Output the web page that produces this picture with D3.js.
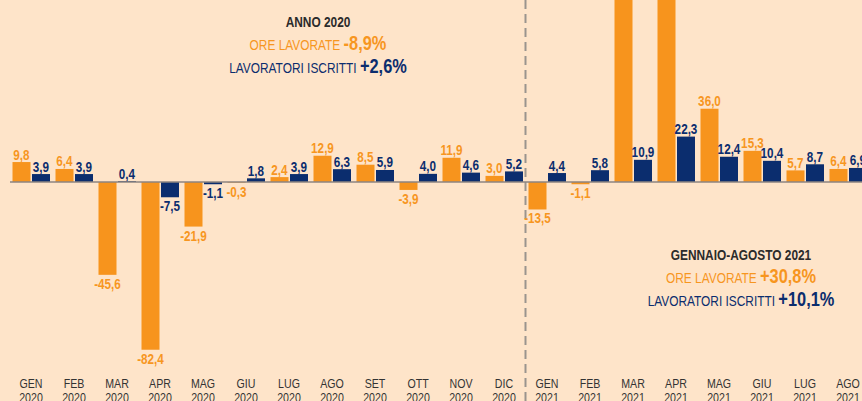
<!DOCTYPE html>
<html lang="it">
<head>
  <meta charset="UTF-8" />
  <title>Ore lavorate e lavoratori iscritti</title>
  <script src="https://d3js.org/d3.v7.min.js"></script>
  <style>
    body { margin: 0; background: #fee4c9; }
    svg { display: block; }
    text { font-family: "Liberation Sans", Arial, sans-serif; }
  </style>
</head>
<body>
  <svg width="862" height="401"></svg>
  <script>
    const months = ["GEN", "FEB", "MAR", "APR", "MAG", "GIU", "LUG", "AGO", "SET", "OTT", "NOV", "DIC",
      "GEN", "FEB", "MAR", "APR", "MAG", "GIU", "LUG", "AGO"];
    const years = ["2020", "2020", "2020", "2020", "2020", "2020", "2020", "2020", "2020", "2020", "2020", "2020",
      "2021", "2021", "2021", "2021", "2021", "2021", "2021", "2021"];
    // variazione % ore lavorate (mar/apr 2021 fuori scala, etichetta non visibile)
    const ore = [9.8, 6.4, -45.6, -82.4, -21.9, -0.3, 2.4, 12.9, 8.5, -3.9, 11.9, 3.0,
      -13.5, -1.1, 120, 150, 36.0, 15.3, 5.7, 6.4];
    const iscritti = [3.9, 3.9, 0.4, -7.5, -1.1, 1.8, 3.9, 6.3, 5.9, 4.0, 4.6, 5.2,
      4.4, 5.8, 10.9, 22.3, 12.4, 10.4, 8.7, 6.9];

    const orange = "#f7941d", navy = "#0b2d6e", labelOrange = "#f7961f";
    const svg = d3.select("svg");
    const keys = months.map((m, i) => m + "-" + years[i]);

    const x = d3.scaleBand().domain(keys).range([9.5, 869.5]);
    const y = d3.scaleLinear().domain([-90, 90]).range([182 + 183.2, 182 - 183.2]);
    const fmt = v => d3.format(".1f")(v).replace(".", ",").replace("−", "-");
    const cx = k => x(k) + x.bandwidth() / 2;

    svg.append("rect").attr("width", 862).attr("height", 401).attr("fill", "#fee4c9");

    // separatore 2020 / 2021
    const sepX = (cx(keys[11]) + cx(keys[12])) / 2;
    svg.append("line")
      .attr("x1", sepX).attr("x2", sepX)
      .attr("y1", 0).attr("y2", 401)
      .attr("stroke", "#9a948e").attr("stroke-width", 2)
      .attr("stroke-dasharray", "9,5");

    const chart = svg.append("g");
    const series = [
      { vals: ore, color: orange, text: labelOrange, dx: -18.5 },
      { vals: iscritti, color: navy, text: navy, dx: 1 }
    ];

    series.forEach(s => {
      const g = chart.append("g");
      g.selectAll("rect")
        .data(s.vals)
        .join("rect")
        .attr("x", (d, i) => cx(keys[i]) + s.dx)
        .attr("width", 18)
        .attr("y", d => y(Math.max(0, d)))
        .attr("height", d => Math.abs(y(d) - y(0)))
        .attr("fill", s.color);
      // etichette solo per i valori che rientrano nell'area visibile
      const shown = s.vals.map((d, i) => ({ d, i })).filter(o => y(o.d) > 20);
      g.selectAll("text")
        .data(shown)
        .join("text")
        .attr("transform", o => {
          const ty = o.d >= 0 ? y(o.d) - 2.5 : y(o.d) + 14;
          return `translate(${cx(keys[o.i]) + s.dx + 9},${ty}) scale(0.78,1)`;
        })
        .attr("text-anchor", "middle")
        .attr("font-size", 15)
        .attr("font-weight", "bold")
        .attr("fill", s.text)
        .text(o => fmt(o.d));
    });

    // linea dello zero
    svg.append("line")
      .attr("x1", 10).attr("x2", 862)
      .attr("y1", y(0)).attr("y2", y(0))
      .attr("stroke", "#8c8580").attr("stroke-width", 1.5);

    // etichette mesi
    const xl = svg.append("g").attr("font-size", 12.5).attr("fill", "#333").attr("text-anchor", "middle");
    keys.forEach((k, i) => {
      xl.append("text").attr("transform", `translate(${cx(k)},388) scale(0.85,1)`).text(months[i]);
      xl.append("text").attr("transform", `translate(${cx(k)},401.5) scale(0.85,1)`).text(years[i]);
    });

    // riquadri di sintesi
    function summary(cxp, y0, title, oreVal, iscrVal) {
      const line = yy => svg.append("text")
        .attr("transform", `translate(${cxp},${yy}) scale(0.82,1)`)
        .attr("text-anchor", "middle");
      line(y0).attr("font-size", 14.5).attr("font-weight", "bold").attr("fill", "#2b2b2b").text(title);
      const t1 = line(y0 + 23).attr("fill", labelOrange);
      t1.append("tspan").attr("font-size", 14.5).text("ORE LAVORATE ");
      t1.append("tspan").attr("font-size", 20).attr("font-weight", "bold").text(oreVal);
      const t2 = line(y0 + 46).attr("fill", navy);
      t2.append("tspan").attr("font-size", 14.5).text("LAVORATORI ISCRITTI ");
      t2.append("tspan").attr("font-size", 20).attr("font-weight", "bold").text(iscrVal);
    }
    summary(318, 27, "ANNO 2020", "-8,9%", "+2,6%");
    summary(741, 260, "GENNAIO-AGOSTO 2021", "+30,8%", "+10,1%");
  </script>
</body>
</html>
